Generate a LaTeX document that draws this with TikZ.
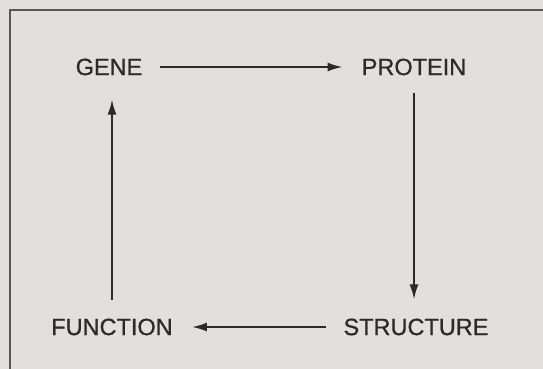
\documentclass[tikz,border=0pt]{standalone}
\usepackage{fontspec}
\setmainfont{Liberation Sans}
\newfontfamily\labelfont{Liberation Sans}[FakeBold=0.8]
\usetikzlibrary{arrows.meta, positioning}
\definecolor{paper}{RGB}{227,223,222}
\definecolor{ink}{RGB}{45,42,42}

\begin{document}
\begin{tikzpicture}[x=1pt,y=-1pt, every node/.style={font=\labelfont\fontsize{23.5}{26}\selectfont, text=ink, inner sep=0pt},
    link/.style={-{Latex[length=15pt,width=9pt]}, line width=2pt, draw=ink, shorten <=17pt, shorten >=19pt}]
    \fill[paper] (0,0) rectangle (543,369);
    \useasboundingbox (0,0) rectangle (543,369);
    \draw[ink!80, line width=1.3pt] (10,369) -- (10,10) -- (543,10);
    \node (gene) at (109,67) {GENE};
    \node (prot) at (414,67) {PROTEIN};
    \node (struct) at (416,327) {STRUCTURE};
    \node (func) at (112,327) {FUNCTION};
    \draw[link] (gene) -- (prot);
    \draw[link] (prot.south) -- (prot.south |- struct.north);
    \draw[link] (struct) -- (func);
    \draw[link, shorten <=18pt, shorten >=24pt] (func.north) -- (func.north |- gene.south);
\end{tikzpicture}
\end{document}
